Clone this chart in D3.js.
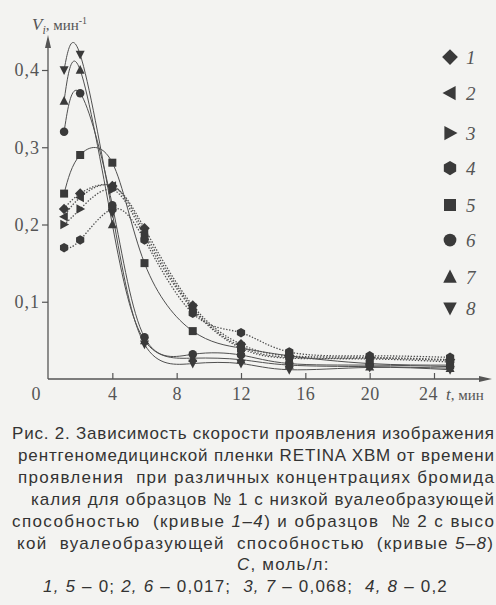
<!DOCTYPE html>
<html><head><meta charset="utf-8">
<script src="https://cdn.jsdelivr.net/npm/d3@7"></script>
<style>
html,body{margin:0;padding:0;background:#f3f3f1;}
svg{display:block;}
.cap{white-space:pre;}
</style></head>
<body>
<svg id="c" width="496" height="605"></svg>
<script>
// ---- data ----
const times = [1, 2, 4, 6, 9, 12, 15, 20, 25];
const s1 = [0.22, 0.24, 0.25, 0.195, 0.095, 0.045, 0.030, 0.028, 0.025];
const s2 = [0.21, 0.235, 0.25, 0.19, 0.092, 0.042, 0.028, 0.027, 0.024];
const s3 = [0.20, 0.22, 0.245, 0.185, 0.090, 0.040, 0.027, 0.026, 0.022];
const s4 = [0.17, 0.18, 0.22, 0.18, 0.085, 0.060, 0.035, 0.030, 0.028];
const s5 = [0.24, 0.29, 0.28, 0.15, 0.062, 0.040, 0.030, 0.020, 0.018];
const s6 = [0.32, 0.37, 0.225, 0.054, 0.032, 0.031, 0.020, 0.018, 0.016];
const s7 = [0.36, 0.40, 0.20, 0.050, 0.027, 0.025, 0.018, 0.016, 0.014];
const s8 = [0.40, 0.42, 0.215, 0.045, 0.020, 0.020, 0.012, 0.015, 0.012];
const seriesNames = ["1","2","3","4","5","6","7","8"];
const seriesValues = [s1,s2,s3,s4,s5,s6,s7,s8];
const seriesShapes = ["diamond","left","right","hexagon","square","circle","up","down"];
const seriesDotted = [true,true,true,true,false,false,false,false];
const xTicks = [0, 4, 8, 12, 16, 20, 24];
const yTicks = [0.1, 0.2, 0.3, 0.4];
const captionLines = [
  "Рис. 2. Зависимость скорости проявления изображения",
  "рентгеномедицинской пленки RETINA XBM от времени",
  "проявления  при различных концентрациях бромида",
  "калия для образцов № 1 с низкой вуалеобразующей",
  "способностью  (кривые |1–4|) и образцов  № 2 с высо",
  "кой  вуалеобразующей  способностью  (кривые |5–8|)",
  "|C|, моль/л:",
  "|1, 5| – 0; |2, 6| – 0,017;  |3, 7| – 0,068;  |4, 8| – 0,2"
];

// ---- layout ----
const svg = d3.select("#c");
const ink = "#3a3a3a";
const x = d3.scaleLinear().domain([0, 24]).range([48, 434]);
const y = d3.scaleLinear().domain([0, 0.4]).range([379, 70]);

function shapePath(shape, r) {
  const p = d3.path();
  if (shape === "circle") { p.arc(0,0,r*0.85,0,2*Math.PI); return p.toString(); }
  let pts;
  if (shape === "diamond") pts = [[0,-r*1.05],[r*1.05,0],[0,r*1.05],[-r*1.05,0]];
  else if (shape === "square") pts = [[-r*0.8,-r*0.8],[r*0.8,-r*0.8],[r*0.8,r*0.8],[-r*0.8,r*0.8]];
  else if (shape === "up") pts = [[0,-r],[r*0.9,r*0.75],[-r*0.9,r*0.75]];
  else if (shape === "down") pts = [[0,r],[r*0.9,-r*0.75],[-r*0.9,-r*0.75]];
  else if (shape === "left") pts = [[-r,0],[r*0.75,-r*0.95],[r*0.75,r*0.95]];
  else if (shape === "right") pts = [[r,0],[-r*0.75,-r*0.95],[-r*0.75,r*0.95]];
  else if (shape === "hexagon") pts = d3.range(6).map(i => {const a = Math.PI/6 + i*Math.PI/3; return [r*0.95*Math.cos(a), r*0.95*Math.sin(a)];});
  p.moveTo(pts[0][0], pts[0][1]);
  pts.slice(1).forEach(q => p.lineTo(q[0], q[1]));
  p.closePath();
  return p.toString();
}

// ---- axes ----
const yAxis = d3.axisLeft(y).tickValues(yTicks).tickSize(6).tickPadding(4)
  .tickFormat(d => d3.format(".1f")(d).replace(".", ","));
const gy = svg.append("g").attr("transform", "translate(48,0)").call(yAxis);
gy.select(".domain").remove();
gy.selectAll(".tick line").attr("stroke", "#555").attr("stroke-width", 1.2);
gy.selectAll(".tick text").attr("font-family", "Liberation Serif").attr("font-size", 18)
  .attr("fill", "#555").attr("letter-spacing", 1).attr("x", -8);

const xAxis = d3.axisBottom(x).tickValues(xTicks.filter(d => d > 0)).tickSize(-6).tickPadding(9)
  .tickFormat(d => d);
const gx = svg.append("g").attr("transform", "translate(0,379)").call(xAxis);
gx.select(".domain").remove();
gx.selectAll(".tick line").attr("stroke", "#555").attr("stroke-width", 1.2);
gx.selectAll(".tick text").attr("font-family", "Liberation Serif").attr("font-size", 18)
  .attr("fill", "#555").attr("letter-spacing", 0.5)
  .attr("dx", d => d === 24 ? -6 : 0).attr("y", 8).attr("dy", "0.71em");
svg.append("text").attr("x", x(xTicks[0]) - 12).attr("y", 387).attr("dy", "0.71em")
  .attr("text-anchor", "middle").attr("font-family", "Liberation Serif").attr("font-size", 18)
  .attr("fill", "#555").text(xTicks[0]);

// axis lines with arrows
svg.append("line").attr("x1", 48).attr("y1", 379).attr("x2", 48).attr("y2", 42)
  .attr("stroke", "#555").attr("stroke-width", 1.3);
svg.append("path").attr("d", "M48,35 L45,48 L51,48 Z").attr("fill", "#555");
svg.append("line").attr("x1", 48).attr("y1", 379).attr("x2", 484).attr("y2", 379)
  .attr("stroke", "#555").attr("stroke-width", 1.3);
svg.append("path").attr("d", "M492,379 L479,376 L479,382 Z").attr("fill", "#555");

// axis titles
const yt = svg.append("text").attr("x", 32).attr("y", 30).attr("font-family", "Liberation Serif")
  .attr("fill", "#555").attr("font-size", 17);
yt.append("tspan").attr("font-style", "italic").text("V");
yt.append("tspan").attr("font-style", "italic").attr("font-size", 12).attr("dy", 4).text("i");
yt.append("tspan").attr("dy", -4).attr("font-size", 15).text(", мин");
yt.append("tspan").attr("font-size", 10).attr("dy", -6).text("-1");

const xt = svg.append("text").attr("x", 446).attr("y", 400).attr("font-family", "Liberation Serif")
  .attr("fill", "#555").attr("font-size", 17);
xt.append("tspan").attr("font-style", "italic").text("t");
xt.append("tspan").attr("font-size", 15).text(", мин");

// ---- curves ----
const line = d3.line().x(d => x(d[0])).y(d => y(d[1])).curve(d3.curveNatural);
seriesValues.forEach((vals, i) => {
  const pts = times.map((t, j) => [t, vals[j]]);
  svg.append("path").attr("d", line(pts)).attr("fill", "none")
    .attr("stroke", "#505050").attr("stroke-width", seriesDotted[i] ? 1.3 : 1)
    .attr("stroke-dasharray", seriesDotted[i] ? "1.4,1.6" : null);
});
seriesValues.forEach((vals, i) => {
  svg.append("g").selectAll("path").data(times.map((t, j) => [t, vals[j]])).join("path")
    .attr("transform", d => `translate(${x(d[0])},${y(d[1])})`)
    .attr("d", shapePath(seriesShapes[i], 5))
    .attr("fill", ink);
});

// ---- legend ----
const legendY = [57, 93, 133, 168, 205, 240, 277, 308];
seriesNames.forEach((n, i) => {
  svg.append("path").attr("transform", `translate(450,${legendY[i]})`)
    .attr("d", shapePath(seriesShapes[i], 7.5)).attr("fill", ink);
  svg.append("text").attr("x", 466).attr("y", legendY[i]).attr("dy", "0.35em")
    .attr("font-family", "Liberation Serif").attr("font-style", "italic").attr("font-size", 19)
    .attr("fill", "#555").text(n);
});

// ---- caption ----
const capX = [12, 18, 18, 31, 12, 17, 237, 43];
const capY = [433, 455, 477, 499, 521, 543, 564, 586];
const capEnd = [494, 494, 494, 494, 494, 493, null, null];
captionLines.forEach((ln, i) => {
  const t = svg.append("text").attr("class", "cap").attr("x", capX[i]).attr("y", capY[i]).attr("dy", "0.35em")
    .attr("font-family", "Liberation Sans").attr("font-size", 17).attr("fill", "#333");
  if (capEnd[i]) t.attr("textLength", capEnd[i] - capX[i]).attr("lengthAdjust", "spacing");
  else t.attr("letter-spacing", 1.2);
  ln.split("|").forEach((part, k) => {
    t.append("tspan").attr("font-style", k % 2 ? "italic" : "normal").text(part);
  });
});
</script>
</body></html>
